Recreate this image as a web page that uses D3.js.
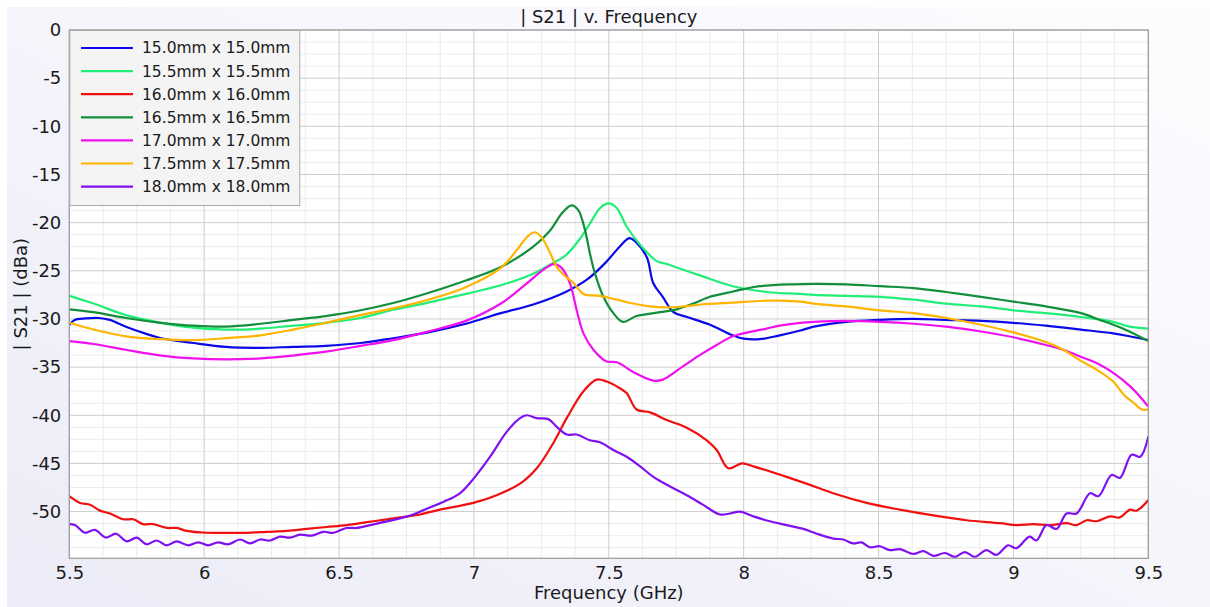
<!DOCTYPE html>
<html>
<head>
<meta charset="utf-8">
<script src="https://cdn.jsdelivr.net/npm/d3@7"></script>
<style>
  html, body { margin: 0; padding: 0; background: #ffffff; }
  svg { display: block; font-family: "DejaVu Sans", sans-serif; }
</style>
</head>
<body>
<div id="chart"></div>
<script>
// |S21| vs frequency for seven patch sizes

const seriesNames = [
    '15.0mm x 15.0mm', '15.5mm x 15.5mm', '16.0mm x 16.0mm', '16.5mm x 16.5mm',
    '17.0mm x 17.0mm', '17.5mm x 17.5mm', '18.0mm x 18.0mm'
];
const seriesColors = ['#0a0ae8', '#22ee77', '#f01010', '#118f3c', '#f010f0', '#ffb400', '#7f10f0'];

const xTicks = [5.5, 6, 6.5, 7, 7.5, 8, 8.5, 9, 9.5];
const yTicks = [0, -5, -10, -15, -20, -25, -30, -35, -40, -45, -50];

// [GHz, dBa]
const s150 = [[5.5,-30.6],[5.52,-30.1],[5.56,-29.95],[5.61,-29.9],[5.65,-30.1],[5.71,-30.8],[5.78,-31.5],[5.84,-32.0],[5.96,-32.5],[6.08,-32.9],[6.21,-33.0],[6.33,-32.9],[6.45,-32.8],[6.58,-32.5],[6.70,-32.0],[6.83,-31.4],[6.97,-30.5],[7.10,-29.4],[7.22,-28.5],[7.34,-27.2],[7.42,-25.9],[7.49,-24.1],[7.54,-22.5],[7.576,-21.6],[7.60,-22.0],[7.641,-23.6],[7.665,-26.3],[7.70,-27.7],[7.74,-29.3],[7.79,-29.8],[7.875,-30.6],[7.96,-31.7],[8.0,-32.05],[8.06,-32.1],[8.134,-31.7],[8.21,-31.2],[8.26,-30.8],[8.38,-30.3],[8.505,-30.1],[8.63,-30.0],[8.75,-30.1],[8.88,-30.2],[9.0,-30.4],[9.12,-30.7],[9.25,-31.1],[9.37,-31.5],[9.43,-31.8],[9.5,-32.2]];
const s155 = [[5.5,-27.6],[5.59,-28.4],[5.71,-29.6],[5.84,-30.4],[5.96,-30.9],[6.08,-31.1],[6.15,-31.1],[6.21,-31.0],[6.33,-30.7],[6.45,-30.4],[6.58,-29.9],[6.70,-29.05],[6.83,-28.3],[6.97,-27.4],[7.10,-26.5],[7.22,-25.3],[7.28,-24.4],[7.34,-23.4],[7.39,-21.8],[7.43,-20.1],[7.467,-18.5],[7.50,-18.0],[7.53,-18.5],[7.566,-20.4],[7.616,-22.3],[7.678,-24.0],[7.715,-24.3],[7.776,-24.9],[7.84,-25.5],[7.96,-26.6],[8.085,-27.2],[8.21,-27.4],[8.26,-27.5],[8.38,-27.6],[8.505,-27.7],[8.63,-28.0],[8.75,-28.4],[8.88,-28.7],[9.0,-29.1],[9.12,-29.4],[9.25,-29.8],[9.37,-30.3],[9.43,-30.8],[9.5,-31.0]];
const s160 = [[5.5,-48.4],[5.54,-49.1],[5.577,-49.3],[5.614,-49.9],[5.651,-50.2],[5.70,-50.8],[5.737,-50.8],[5.774,-51.3],[5.811,-51.3],[5.861,-51.7],[5.898,-51.7],[5.935,-52.0],[6.009,-52.2],[6.083,-52.2],[6.158,-52.2],[6.232,-52.1],[6.306,-52.0],[6.38,-51.8],[6.454,-51.6],[6.528,-51.4],[6.603,-51.1],[6.677,-50.8],[6.726,-50.6],[6.80,-50.3],[6.874,-49.8],[6.998,-49.1],[7.084,-48.3],[7.171,-47.1],[7.233,-45.5],[7.294,-42.9],[7.344,-40.3],[7.406,-37.5],[7.455,-36.3],[7.492,-36.5],[7.541,-37.2],[7.566,-37.7],[7.603,-39.4],[7.653,-39.7],[7.715,-40.5],[7.789,-41.3],[7.863,-42.6],[7.90,-43.6],[7.943,-45.5],[7.993,-45.0],[8.036,-45.3],[8.159,-46.4],[8.283,-47.6],[8.332,-48.1],[8.456,-49.1],[8.579,-49.8],[8.703,-50.4],[8.826,-50.9],[8.95,-51.2],[9.012,-51.4],[9.074,-51.3],[9.136,-51.4],[9.197,-51.2],[9.234,-51.4],[9.272,-50.9],[9.309,-51.0],[9.358,-50.5],[9.395,-50.6],[9.432,-49.8],[9.457,-49.9],[9.5,-48.8]];
const s165 = [[5.5,-29.0],[5.59,-29.3],[5.71,-29.9],[5.84,-30.4],[5.96,-30.7],[6.08,-30.8],[6.21,-30.5],[6.33,-30.1],[6.45,-29.7],[6.58,-29.1],[6.70,-28.35],[6.83,-27.3],[6.97,-26.0],[7.10,-24.6],[7.22,-22.5],[7.28,-20.9],[7.33,-18.9],[7.362,-18.2],[7.387,-18.7],[7.412,-20.8],[7.43,-23.2],[7.449,-25.3],[7.48,-27.7],[7.517,-29.4],[7.552,-30.3],[7.603,-29.7],[7.69,-29.3],[7.752,-29.0],[7.813,-28.4],[7.875,-27.7],[7.937,-27.3],[8.0,-26.9],[8.06,-26.6],[8.184,-26.4],[8.26,-26.35],[8.38,-26.4],[8.505,-26.6],[8.63,-26.8],[8.75,-27.2],[8.88,-27.7],[9.0,-28.2],[9.12,-28.7],[9.25,-29.4],[9.32,-30.1],[9.37,-30.6],[9.43,-31.3],[9.5,-32.3]];
const s170 = [[5.5,-32.3],[5.59,-32.6],[5.71,-33.2],[5.84,-33.8],[5.96,-34.1],[6.08,-34.2],[6.21,-34.1],[6.33,-33.8],[6.45,-33.4],[6.58,-32.8],[6.70,-32.2],[6.83,-31.3],[6.97,-30.2],[7.10,-28.4],[7.196,-26.3],[7.257,-24.9],[7.297,-24.3],[7.325,-24.7],[7.356,-26.3],[7.381,-29.1],[7.406,-31.5],[7.443,-33.2],[7.49,-34.4],[7.53,-34.5],[7.59,-35.5],[7.665,-36.4],[7.70,-36.3],[7.776,-34.9],[7.84,-33.7],[7.90,-32.7],[7.96,-31.8],[8.085,-31.0],[8.134,-30.7],[8.21,-30.4],[8.26,-30.3],[8.38,-30.2],[8.505,-30.3],[8.63,-30.5],[8.75,-30.8],[8.88,-31.3],[9.0,-31.9],[9.12,-32.7],[9.185,-33.2],[9.247,-33.9],[9.31,-34.6],[9.37,-35.6],[9.433,-37.0],[9.47,-38.1],[9.5,-39.1]];
const s175 = [[5.5,-30.4],[5.59,-31.1],[5.71,-31.8],[5.84,-32.1],[5.96,-32.2],[6.08,-32.0],[6.21,-31.7],[6.33,-31.1],[6.45,-30.4],[6.58,-29.6],[6.70,-28.9],[6.83,-28.0],[6.97,-26.7],[7.10,-24.7],[7.16,-22.8],[7.20,-21.4],[7.226,-21.0],[7.25,-21.5],[7.28,-23.0],[7.307,-24.6],[7.332,-25.4],[7.37,-26.3],[7.406,-27.4],[7.467,-27.6],[7.53,-28.0],[7.59,-28.4],[7.653,-28.7],[7.715,-28.8],[7.776,-28.7],[7.84,-28.5],[7.96,-28.3],[8.085,-28.1],[8.134,-28.1],[8.21,-28.2],[8.26,-28.4],[8.38,-28.7],[8.505,-29.1],[8.63,-29.4],[8.75,-29.9],[8.88,-30.6],[9.0,-31.4],[9.12,-32.4],[9.185,-33.2],[9.247,-34.3],[9.31,-35.3],[9.37,-36.5],[9.41,-37.9],[9.445,-38.7],[9.476,-39.4],[9.5,-39.4]];
const s180 = [[5.5,-51.3],[5.521,-51.4],[5.558,-52.2],[5.595,-51.9],[5.636,-52.7],[5.673,-52.3],[5.713,-53.1],[5.75,-52.7],[5.787,-53.4],[5.824,-53.0],[5.861,-53.5],[5.898,-53.1],[5.941,-53.5],[5.978,-53.2],[6.015,-53.5],[6.052,-53.2],[6.089,-53.4],[6.133,-52.9],[6.17,-53.3],[6.207,-52.9],[6.244,-53.0],[6.281,-52.6],[6.318,-52.7],[6.355,-52.4],[6.398,-52.5],[6.442,-52.1],[6.479,-52.2],[6.528,-51.7],[6.565,-51.7],[6.615,-51.4],[6.664,-51.1],[6.726,-50.7],[6.775,-50.3],[6.825,-49.7],[6.886,-49.0],[6.948,-48.1],[6.998,-46.6],[7.06,-44.3],[7.122,-41.7],[7.171,-40.3],[7.196,-40.0],[7.233,-40.3],[7.276,-40.4],[7.307,-41.2],[7.344,-42.0],[7.381,-42.0],[7.43,-42.6],[7.467,-42.8],[7.517,-43.6],[7.566,-44.3],[7.616,-45.3],[7.665,-46.4],[7.727,-47.4],[7.789,-48.3],[7.85,-49.3],[7.912,-50.3],[7.949,-50.2],[7.986,-50.0],[8.036,-50.5],[8.097,-51.0],[8.159,-51.4],[8.221,-51.8],[8.271,-52.3],[8.332,-52.8],[8.369,-52.9],[8.406,-53.3],[8.437,-53.2],[8.468,-53.7],[8.505,-53.6],[8.542,-54.0],[8.579,-53.9],[8.629,-54.4],[8.666,-54.1],[8.703,-54.6],[8.746,-54.3],[8.783,-54.7],[8.82,-54.2],[8.857,-54.7],[8.9,-54.0],[8.937,-54.5],[8.98,-53.5],[9.011,-53.8],[9.06,-52.6],[9.085,-53.0],[9.123,-51.4],[9.16,-51.8],[9.197,-50.2],[9.234,-50.2],[9.284,-48.1],[9.315,-48.4],[9.364,-46.2],[9.395,-46.5],[9.438,-44.1],[9.47,-44.3],[9.5,-42.2]];

const seriesData = [s150, s155, s160, s165, s170, s175, s180];

const width = 1210, height = 607;
const margin = { left: 69.3, right: 1148.3, top: 30, bottom: 558.3 };

const svg = d3.select('#chart').append('svg')
    .attr('width', width)
    .attr('height', height);

// background panel
const defs = svg.append('defs');
const grad = defs.append('linearGradient')
    .attr('id', 'bg')
    .attr('x1', '100%').attr('y1', '0%')
    .attr('x2', '0%').attr('y2', '100%');
grad.append('stop').attr('offset', '0%').attr('stop-color', '#fdfdff');
grad.append('stop').attr('offset', '100%').attr('stop-color', '#ececf8');

svg.append('rect').attr('width', width).attr('height', height).attr('fill', '#ffffff');
svg.append('rect')
    .attr('x', 7).attr('y', 7)
    .attr('width', width - 7).attr('height', height - 7)
    .attr('fill', 'url(#bg)');

const x = d3.scaleLinear().domain([5.5, 9.5]).range([margin.left, margin.right]);
const y = d3.scaleLinear().domain([-54.85, 0]).range([margin.bottom, margin.top]);

defs.append('clipPath').attr('id', 'plotClip')
    .append('rect')
    .attr('x', margin.left).attr('y', margin.top)
    .attr('width', margin.right - margin.left)
    .attr('height', margin.bottom - margin.top);

// plot area
svg.append('rect')
    .attr('x', margin.left).attr('y', margin.top)
    .attr('width', margin.right - margin.left)
    .attr('height', margin.bottom - margin.top)
    .attr('fill', '#ffffff');

// minor grid
const minorX = d3.range(5.5, 9.5001, 0.125).filter(v => !xTicks.some(t => Math.abs(t - v) < 1e-6));
const minorY = d3.range(0, -54.85, -1.25).filter(v => !yTicks.some(t => Math.abs(t - v) < 1e-6));

const grid = svg.append('g');
grid.selectAll('.mx').data(minorX).enter().append('line')
    .attr('x1', d => x(d)).attr('x2', d => x(d))
    .attr('y1', margin.top).attr('y2', margin.bottom)
    .attr('stroke', '#ececec').attr('stroke-width', 1);
grid.selectAll('.my').data(minorY).enter().append('line')
    .attr('x1', margin.left).attr('x2', margin.right)
    .attr('y1', d => y(d)).attr('y2', d => y(d))
    .attr('stroke', '#ececec').attr('stroke-width', 1);

// major grid
grid.selectAll('.gx').data(xTicks).enter().append('line')
    .attr('x1', d => x(d)).attr('x2', d => x(d))
    .attr('y1', margin.top).attr('y2', margin.bottom)
    .attr('stroke', '#cdcdcd').attr('stroke-width', 1);
grid.selectAll('.gy').data(yTicks).enter().append('line')
    .attr('x1', margin.left).attr('x2', margin.right)
    .attr('y1', d => y(d)).attr('y2', d => y(d))
    .attr('stroke', '#cdcdcd').attr('stroke-width', 1);

// curves
const line = d3.line()
    .x(d => x(d[0]))
    .y(d => y(d[1]))
    .curve(d3.curveCatmullRom.alpha(0.5));

svg.append('g')
    .attr('clip-path', 'url(#plotClip)')
    .selectAll('path')
    .data(seriesData)
    .enter()
    .append('path')
    .attr('d', d => line(d))
    .attr('fill', 'none')
    .attr('stroke', (d, i) => seriesColors[i])
    .attr('stroke-width', 2.2)
    .attr('stroke-linejoin', 'round');

// frame
svg.append('rect')
    .attr('x', margin.left).attr('y', margin.top)
    .attr('width', margin.right - margin.left)
    .attr('height', margin.bottom - margin.top)
    .attr('fill', 'none')
    .attr('stroke', '#9a9a9a')
    .attr('stroke-width', 1.2);

// axes (tick labels only, no tick marks)
const xAxis = d3.axisBottom(x).tickValues(xTicks).tickSize(0).tickPadding(8)
    .tickFormat(d3.format('~g'));
const gx = svg.append('g').attr('transform', `translate(0, ${margin.bottom})`).call(xAxis);
gx.select('.domain').remove();
gx.selectAll('text').attr('font-size', '18px').attr('font-family', 'DejaVu Sans').attr('fill', '#1a1a1a');

const yAxis = d3.axisLeft(y).tickValues(yTicks).tickSize(0).tickPadding(8)
    .tickFormat(d => String(d));
const gy = svg.append('g').attr('transform', `translate(${margin.left}, 0)`).call(yAxis);
gy.select('.domain').remove();
gy.selectAll('text').attr('font-size', '18px').attr('font-family', 'DejaVu Sans').attr('fill', '#1a1a1a');

// titles
svg.append('text')
    .attr('x', (margin.left + margin.right) / 2)
    .attr('y', 23)
    .attr('text-anchor', 'middle')
    .attr('font-size', '18px')
    .attr('fill', '#1a1a1a')
    .text('| S21 | v. Frequency');

svg.append('text')
    .attr('x', (margin.left + margin.right) / 2)
    .attr('y', 599)
    .attr('text-anchor', 'middle')
    .attr('font-size', '18px')
    .attr('fill', '#1a1a1a')
    .text('Frequency (GHz)');

svg.append('text')
    .attr('transform', `translate(27, ${(margin.top + margin.bottom) / 2}) rotate(-90)`)
    .attr('text-anchor', 'middle')
    .attr('font-size', '18px')
    .attr('fill', '#1a1a1a')
    .text('| S21 | (dBa)');

// legend
const legend = svg.append('g');
legend.append('rect')
    .attr('x', margin.left + 0.5).attr('y', margin.top + 0.5)
    .attr('width', 230).attr('height', 175)
    .attr('fill', '#f4f4f4')
    .attr('stroke', '#aaaaaa')
    .attr('stroke-width', 1);

const items = legend.selectAll('.legend-item')
    .data(seriesNames)
    .enter()
    .append('g')
    .attr('class', 'legend-item')
    .attr('transform', (d, i) => `translate(0, ${48 + i * 23.1})`);

items.append('line')
    .attr('x1', 81).attr('x2', 133)
    .attr('y1', 0).attr('y2', 0)
    .attr('stroke', (d, i) => seriesColors[i])
    .attr('stroke-width', 2.2);

items.append('text')
    .attr('x', 142)
    .attr('dy', '0.35em')
    .attr('font-size', '15.5px')
    .attr('fill', '#1a1a1a')
    .text(d => d);
</script>
</body>
</html>
